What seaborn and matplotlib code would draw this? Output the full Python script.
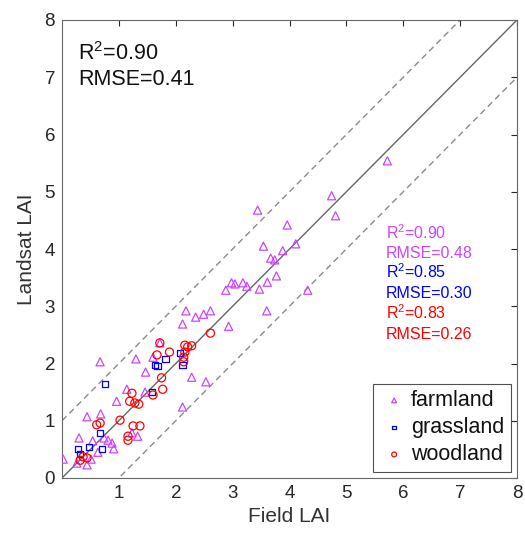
import numpy as np
import pandas as pd
import matplotlib
matplotlib.use("Agg")
import matplotlib.pyplot as plt
import seaborn as sns

sns.set_style("white")
plt.rcParams['font.family'] = ['Liberation Sans', 'DejaVu Sans']
plt.rcParams['mathtext.fontset'] = 'custom'
plt.rcParams['mathtext.rm'] = 'Liberation Sans'
plt.rcParams['mathtext.it'] = 'Liberation Sans:italic'

# ---- data (Field LAI, Landsat LAI) ----
farm_x = [5.72, 4.74, 4.81, 3.44, 3.96, 3.54, 3.88, 4.11, 3.67, 3.74, 3.77, 3.61, 3.47, 4.32,
          2.98, 3.04, 3.18, 3.25, 2.88, 3.60, 2.18, 2.35, 2.49, 2.61, 2.12, 2.93, 1.72, 1.60,
          1.30, 0.67, 1.47, 2.28, 2.53, 1.14, 1.46, 0.96, 2.12, 0.68, 0.44, 1.23, 1.33, 0.30,
          0.54, 0.74, 0.81, 0.88, 0.91, 0.63, 0.51, 0.44, 0.26, 0.02]
farm_y = [5.54, 4.93, 4.58, 4.68, 4.42, 4.05, 3.97, 4.09, 3.84, 3.81, 3.53, 3.42, 3.30, 3.28,
          3.41, 3.39, 3.41, 3.35, 3.28, 2.92, 2.92, 2.81, 2.86, 2.92, 2.69, 2.65, 2.36, 2.11,
          2.08, 2.03, 1.85, 1.76, 1.68, 1.55, 1.50, 1.34, 1.24, 1.12, 1.07, 0.79, 0.73, 0.70,
          0.65, 0.70, 0.66, 0.61, 0.51, 0.45, 0.33, 0.23, 0.26, 0.33]

grass_x = [0.75, 0.67, 0.28, 0.32, 0.47, 0.70, 1.63, 1.68, 1.82, 2.07, 2.12, 1.58]
grass_y = [1.64, 0.79, 0.51, 0.42, 0.54, 0.51, 1.97, 1.96, 2.08, 2.18, 1.97, 1.50]

wood_x = [2.61, 1.72, 1.89, 1.67, 2.16, 2.21, 2.28, 2.16, 2.14, 2.14, 1.75, 1.77, 1.60, 1.23,
          1.19, 1.28, 1.35, 1.02, 0.61, 0.67, 1.25, 1.37, 1.16, 1.16, 0.37, 0.44, 0.32]
wood_y = [2.53, 2.36, 2.20, 2.15, 2.32, 2.29, 2.31, 2.20, 2.11, 2.03, 1.75, 1.55, 1.45, 1.48,
          1.34, 1.31, 1.29, 1.01, 0.93, 0.96, 0.91, 0.91, 0.73, 0.66, 0.37, 0.35, 0.31]

classes = ["farmland", "grassland", "woodland"]
colors = {"farmland": "#CC44FF", "grassland": "#0000FF", "woodland": "#FF0000"}
stats_all = ["R$^2$=0.90", "RMSE=0.41"]
stats_cls = {"farmland": ["R$^2$=0.90", "RMSE=0.48"],
             "grassland": ["R$^2$=0.85", "RMSE=0.30"],
             "woodland": ["R$^2$=0.83", "RMSE=0.26"]}
ticks = [0, 1, 2, 3, 4, 5, 6, 7, 8]

df = pd.concat([
    pd.DataFrame({"field": farm_x, "landsat": farm_y, "type": "farmland"}),
    pd.DataFrame({"field": grass_x, "landsat": grass_y, "type": "grassland"}),
    pd.DataFrame({"field": wood_x, "landsat": wood_y, "type": "woodland"}),
], ignore_index=True)

fig = plt.figure(figsize=(5.25, 5.41), dpi=100)
ax = fig.add_axes([62/525, 1 - 478/541, (517-62)/525, (478-20)/541])

line = np.array([0, 8])
ax.plot(line, line, color="#666666", lw=1.0, zorder=1)
ax.plot(line, line + 1, color="#8a8a8a", lw=1.0, dashes=(4.5, 3), zorder=1)
ax.plot(line, line - 1, color="#8a8a8a", lw=1.0, dashes=(4.5, 3), zorder=1)

markers = {"farmland": "^", "grassland": "s", "woodland": "o"}
sizes = {"farmland": 34, "grassland": 20, "woodland": 34}
for c in classes:
    sub = df[df["type"] == c]
    sns.scatterplot(data=sub, x="field", y="landsat", marker=markers[c], s=sizes[c],
                    facecolor="none", edgecolor=colors[c], linewidth=0.9,
                    label=c, ax=ax, zorder=3)

ax.set_xlim(0, 8)
ax.set_ylim(0, 8)
ax.set_xticks(ticks[1:])
ax.set_yticks(ticks)
ax.tick_params(direction="in", top=True, right=True, length=4, width=0.8,
               colors="#262626", labelsize=13.5, pad=5)
for s in ax.spines.values():
    s.set_visible(True)
    s.set_color("#666666")
    s.set_linewidth(0.8)
ax.set_xlabel("Field LAI", fontsize=15, color="#333333", labelpad=4)
ax.set_ylabel("Landsat LAI", fontsize=15, color="#333333", labelpad=6)

ax.text(0.28, 7.30, stats_all[0], fontsize=15.5, color="#111111", va="baseline")
ax.text(0.28, 6.87, stats_all[1], fontsize=15.5, color="#111111", va="baseline")

ybase = [4.17, 3.84, 3.49, 3.14, 2.78, 2.43]
i = 0
for c in classes:
    for t in stats_cls[c]:
        ax.text(5.70, ybase[i], t, fontsize=11.5, color=colors[c], va="baseline")
        i += 1

leg = ax.legend(loc="lower right", fontsize=15.5, markerscale=0.6, frameon=True,
                fancybox=False, edgecolor="#262626", handlelength=1.35,
                handletextpad=0.1, labelspacing=0.28, borderpad=0.3, borderaxespad=0.3)
leg.get_frame().set_linewidth(0.8)
for t in leg.get_texts():
    t.set_color("#111111")

fig.savefig("out.png", dpi=100)
